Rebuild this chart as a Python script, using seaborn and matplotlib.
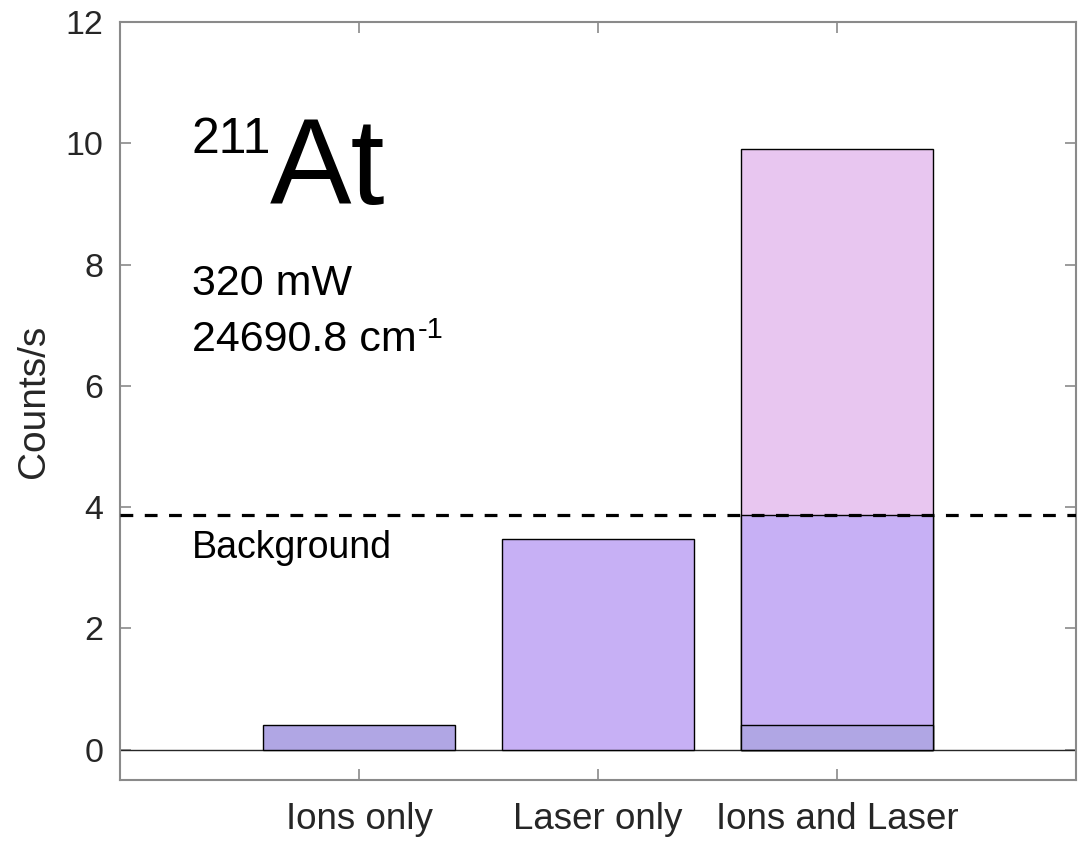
import matplotlib
matplotlib.use("Agg")
import matplotlib.pyplot as plt
import seaborn as sns
import pandas as pd

# Count rates (counts/s) for each measurement condition
categories = ["Ions only", "Laser only", "Ions and Laser"]
ions_counts = [0.40, 0.0, 0.40]        # ion-only contribution
laser_counts = [0.0, 3.48, 3.47]       # laser-only contribution
signal_counts = [0.0, 0.0, 6.03]       # resonant ionisation signal
background_level = 3.87
y_ticks = [0, 2, 4, 6, 8, 10, 12]

colors = {"signal": "#e8c6f0", "laser": "#c7b0f5", "ions": "#b0a6e4"}

# Build cumulative stack tops; the tallest segment is drawn first
rows = []
for cat, i, l, s in zip(categories, ions_counts, laser_counts, signal_counts):
    if s > 0:
        rows.append((cat, "signal", i + l + s))
    if l > 0:
        rows.append((cat, "laser", i + l))
    if i > 0:
        rows.append((cat, "ions", i))
df = pd.DataFrame(rows, columns=["condition", "segment", "top"])

sns.set_style("white")
plt.rcParams["font.family"] = ["Liberation Sans", "DejaVu Sans"]

fig = plt.figure(figsize=(10.84, 8.41), dpi=100)
ax = fig.add_axes([0.1107, 0.0725, 0.8819, 0.9013])

sns.barplot(data=df, x="condition", y="top", hue="segment",
            order=categories, hue_order=["signal", "laser", "ions"],
            palette=colors, dodge=False, width=0.8,
            edgecolor="black", linewidth=1.0, saturation=1,
            legend=False, ax=ax, zorder=2)

ax.axhline(0, color="#262626", lw=1.0, zorder=1)
ax.axhline(background_level, color="black", lw=2.3,
           linestyle=(0, (4.0, 3.6)), zorder=3)

ax.set_xlim(-1, 3)
ax.set_ylim(-0.5, 12)
ax.set_yticks(y_ticks)
ax.set_yticklabels([str(t) for t in y_ticks])
ax.set_xlabel("")
ax.set_ylabel("Counts/s", fontsize=28, color="#262626", labelpad=10)

for side in ["left", "right", "top", "bottom"]:
    ax.spines[side].set_visible(True)
    ax.spines[side].set_color("#8a8a8a")
    ax.spines[side].set_linewidth(1.5)

ax.tick_params(axis="both", direction="in", length=8, width=1.2,
               color="#8a8a8a", labelcolor="#262626")
ax.tick_params(axis="x", pad=16, bottom=True, top=True, labelsize=26.5)
ax.tick_params(axis="y", pad=12, left=True, right=True, labelsize=24.5)

# Annotations
ax.text(-0.70, 9.84, "211", fontsize=36, va="baseline", ha="left",
        color="black")
ax.text(-0.375, 9.0, "At", fontsize=88, va="baseline", ha="left",
        color="black")
ax.text(-0.70, 7.5, "320 mW", fontsize=31, va="baseline", ha="left",
        color="black")
wn = ax.text(-0.70, 6.58, "24690.8 cm", fontsize=31, va="baseline",
             ha="left", color="black")
ax.annotate("-1", xy=(1, 1.1), xycoords=wn, xytext=(1, 0),
            textcoords="offset points", fontsize=21, va="top",
            ha="left", color="black")
ax.text(-0.70, 3.16, "Background", fontsize=27, va="baseline", ha="left",
        color="black")

fig.savefig("out.png", dpi=100)
